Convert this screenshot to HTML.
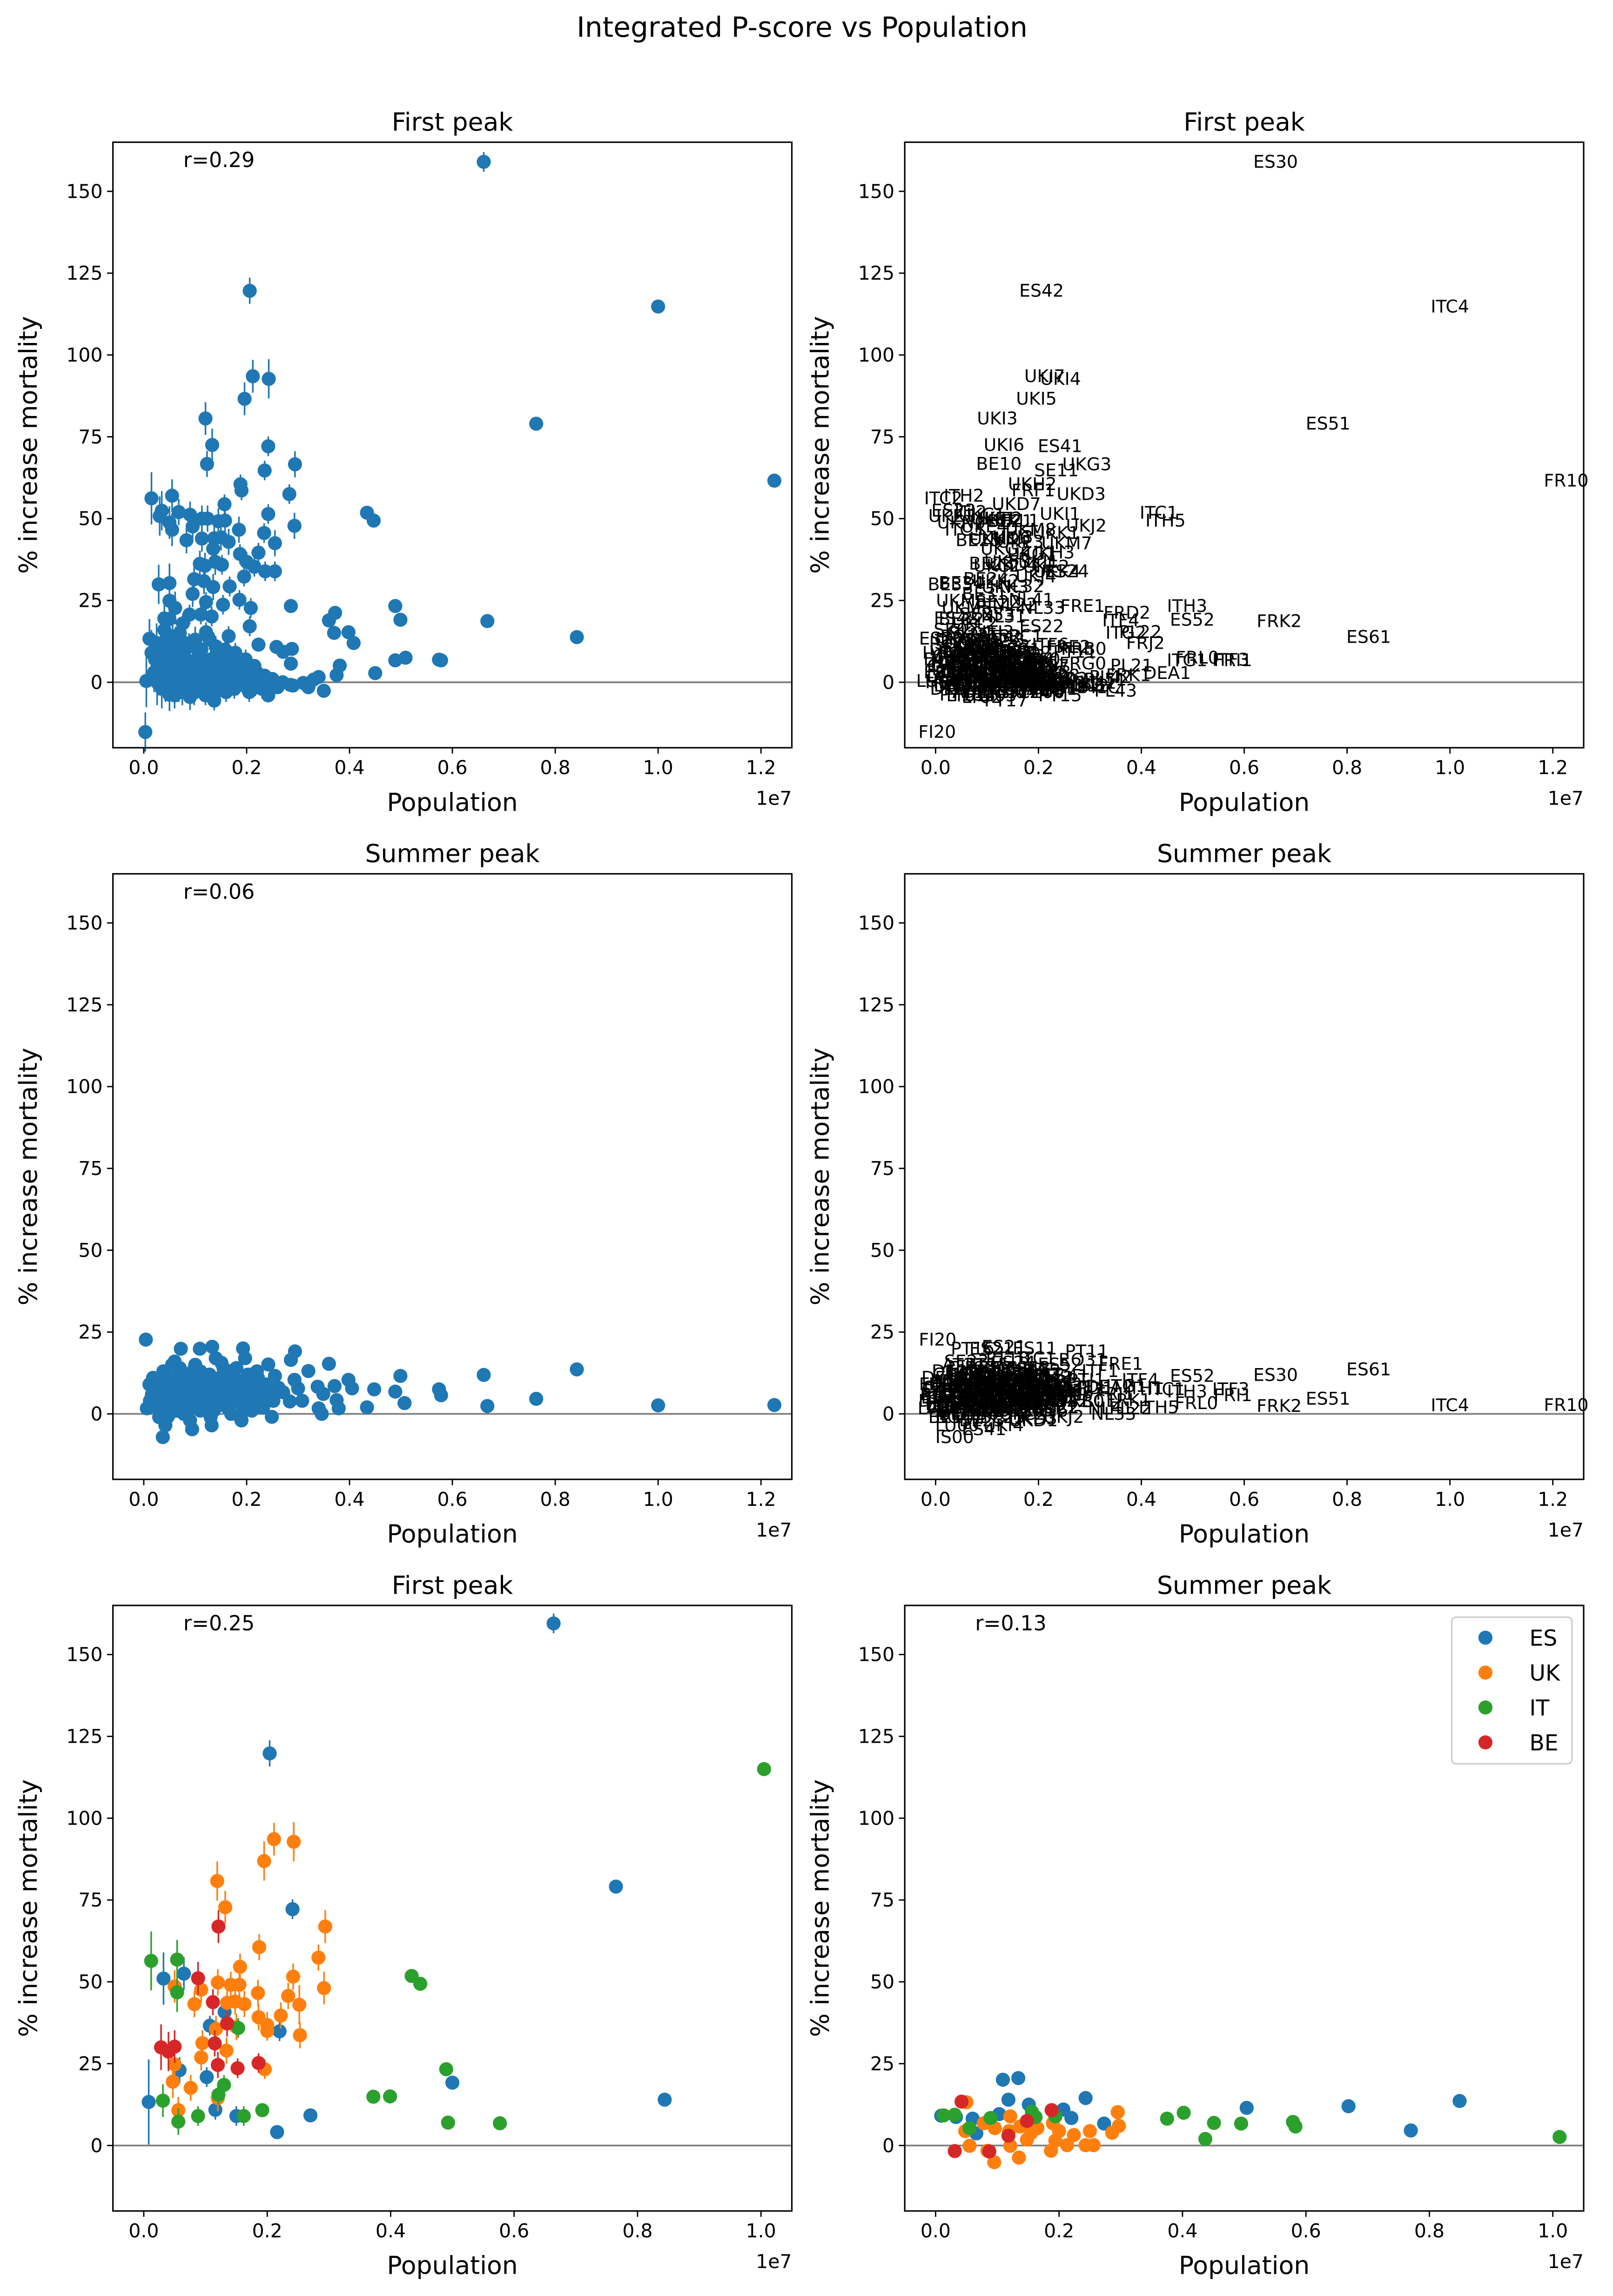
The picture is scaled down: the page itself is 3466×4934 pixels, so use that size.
<!DOCTYPE html>
<html><head><meta charset="utf-8">
<style>
html,body{margin:0;padding:0;background:#fff;}
svg{display:block;font-family:"DejaVu Sans","Liberation Sans",sans-serif;}
</style></head>
<body>
<svg id="fig" width="3466" height="4934" viewBox="0 0 1100 1566" preserveAspectRatio="none" xmlns="http://www.w3.org/2000/svg">
<rect x="0" y="0" width="1100" height="1566" fill="#fff"/>
<text x="547" y="25" font-size="19" text-anchor="middle">Integrated P-score vs Population</text>
</svg>
<script>
// ---------- First peak (all regions) ----------
const fpPop = [6.61,2.06,10.0,7.63,12.26,2.12,2.43,1.96,1.20,1.33,2.42,1.23,2.94,2.35,1.88,1.90,2.83,0.15,0.55,1.57,2.42,4.34,4.47,2.93,1.85,0.35,0.31,0.68,0.90,1.13,1.24,1.45,1.58,0.50,0.55,0.95,2.34,0.83,1.13,1.37,1.50,1.65,2.55,1.35,2.23,1.87,2.0,1.09,1.19,1.39,1.52,2.15,2.36,2.55,0.29,0.50,0.98,1.17,1.35,1.95,1.67,0.95,0.50,0.61,1.21,1.54,1.86,2.08,2.86,4.89,4.99,6.68,8.42,3.60,3.72,3.70,3.98,4.08,2.06,0.76,0.89,1.11,1.32,0.40,0.50,0.11,1.21,1.65,2.23,2.58,2.71,2.88,2.86,4.89,5.09,5.74,5.78,4.50,3.81,3.75,0.05,0.03,
0.3,0.4,0.5,0.6,0.7,0.8,0.9,1.0,1.1,1.2,1.3,1.4,1.5,1.6,1.7,1.8,1.9,2.0,2.1,2.2,2.3,2.5,0.35,0.45,0.55,0.65,0.75,0.85,0.95,1.05,1.15,1.25,1.35,1.45,1.55,1.65,1.75,1.85,1.95,2.05,2.15,2.35,2.7,2.9,3.1,3.4,3.5,3.3,2.85,2.42,2.08,1.37,0.5,0.25,0.2,0.15,0.6,0.9,1.2,1.6,0.7,1.0,0.4,0.55,0.8,1.1,1.4,1.7,2.25,2.6,3.2,
0.22,0.28,0.33,0.38,0.42,0.48,0.52,0.58,0.62,0.68,0.72,0.78,0.82,0.88,0.92,0.98,1.02,1.08,1.12,1.18,1.22,1.28,1.32,1.38,1.42,1.48,1.52,1.58,1.62,1.68,1.72,1.78,1.82,1.88,1.92,1.98,2.02,2.12,2.18,2.28,0.26,0.36,0.46,0.56,0.66,0.76,0.86,0.96,1.06,1.16,1.26,1.36,1.46,1.56,1.66,1.76,1.86,1.96,2.16,2.46];
const fpVal = [159,119.6,114.8,79,61.6,93.5,92.7,86.6,80.6,72.5,72.1,66.7,66.6,64.7,60.5,58.6,57.5,56.2,57,54.4,51.4,51.8,49.4,47.8,46.6,52.4,50.8,52,51.2,50,50,49.2,49.4,48.8,46.6,47.6,45.6,43.4,43.9,44,44.3,42.9,42.5,40.8,39.6,39.2,36.8,36.2,35.6,36.8,35.9,35.3,33.9,33.9,29.9,30.3,31.5,30.9,29.1,32.3,29.3,27,24.9,22.7,24.5,23.7,25.2,22.7,23.3,23.3,19.1,18.7,13.8,18.9,21.2,15.1,15.3,12,17.1,18,20.7,20.7,20.1,19.5,19.3,13.3,15.3,14.1,11.5,10.8,9.3,10.2,5.7,6.7,7.5,6.9,6.7,2.8,5.1,2.2,0.4,-15.2,
5,8,2,10,4,12,6,1,9,3,7,11,2,5,8,1,4,6,0,3,-2,1,-2,13,0,7,-3,3,11,-1,5,14,-2,6,9,1,-1,7,2,-3,5,2,0,-1,-0.2,1.6,-2.6,0.8,-0.8,-4,-2.6,-5.6,-3.8,12,3,9,-4,-4.5,-4,-3,15,13,16,11,0.5,2.5,0,3.5,-0.5,-1.5,-1.5,
7,2,10,4,-1,6,9,3,12,-2,5,8,0,11,4,-3,7,2,10,-1,6,13,1,4,8,-2,3,10,0,6,2,9,-1,5,1,7,-2,3,0,1,0,6,3,14,-1,8,2,5,0,7,3,-3,9,1,6,-2,4,1,2,-1];
const fpErr = [3,4,2,2,2,5,6,5,5,5,3,4,4,3,3,3,3,8,5,3,3,1,1,4,4,6,6,4,4,4,4,4,4,5,5,4,3,4,4,4,4,4,4,4,3,3,3,4,4,4,3,3,3,3,6,6,4,4,4,3,3,4,5,5,3,3,3,3,2,1,1,1,1,2,2,2,1,1,3,3,3,3,3,4,4,6,3,3,2,2,2,2,2,1,1,1,1,1,1,1,8,6,
6,5,5,4,4,4,4,4,4,3,3,3,3,3,3,3,3,3,3,3,3,2,6,6,5,4,4,4,4,4,3,3,3,3,3,3,3,3,3,3,2,2,2,2,2,2,2,2,2,2,2,3,5,6,6,7,4,4,3,3,4,4,5,5,4,4,3,3,2,2,2,
7,6,6,6,5,5,5,5,5,4,4,4,4,4,4,4,4,4,4,4,3,3,3,3,3,3,3,3,3,3,3,3,3,3,3,3,3,3,3,3,7,6,5,5,5,4,4,4,4,4,3,3,3,3,3,3,3,3,3,2];
const fpName = ["ES30","ES42","ITC4","ES51","FR10","UKI7","UKI4","UKI5","UKI3","UKI6","ES41","BE10","UKG3","SE11","UKH2","FRF1","UKD3","ITC2","ITH2","UKD7","UKI1","ITC1","ITH5","UKJ2","UKM8","ES23","UKE1","ITI2","UKC1","UKF1","UKF2","BE21","UKL1","UKN0","ITC3","UKE4","UKK1","BE25","UKH1","UKD6","UKJ3","UKE3","UKM7","UKG2","UKH3","UKG1","UKJ1","BE23","UKC2","UKF3","UKD4","UKE2","UKK4","ES24","BE35","BE34","BE24","UKK2","UKK3","UKJ4","NL32","BE31","UKM6","UKM5","BE22","NL22","NL41","NL33","FRE1","ITH3","ES52","FRK2","ES61","ITF4","FRD2","ITG2","PL22","FRJ2","ES22","UKL2","SE23","ES53","NL31","ES43","BE32","ES70","ITI3","FRC1","ITF6","FRE2","PT11","FRB0","FRG0","ITG1","FRL0","ITF3","FRI1","DEA1","PL21","FRK1","LU00","FI20",
"CH01","CH02","CH03","CH04","CH05","CH06","CH07","NL11","NL12","NL13","NL21","NL23","NL34","NL42","SE12","SE21","SE22","SE31","SE32","SE33","DK01","DK02","DK03","DK04","DK05","AT11","AT12","AT13","AT21","AT22","AT31","AT32","AT33","AT34","CZ01","CZ02","CZ03","CZ04","CZ05","CZ06","CZ07","CZ08","HU11","HU12","PL41","PL42","PL43","PL51","PL52","PT15","PT16","PT17","PT18","IS00","EE00","LV00","LT01","LT02","SI03","SI04","SK01","SK02","SK03","SK04","NO01","NO02","NO03","NO04","FI19","FI1B","FI1C",
"DE11","DE12","DE13","DE14","DE21","DE22","DE23","DE24","DE25","DE26","DE27","DE30","DE40","DE50","DE60","DE71","DE72","DE73","DE80","DE91","DE92","DE93","DE94","DEA2","DEA3","DEA4","DEA5","DEB1","DEB2","DEB3","DEC0","DED2","DED4","DED5","DEE0","DEF0","DEG0","PL61","PL62","PL63","HR03","HR04","RO11","RO12","RO21","RO22","RO31","RO32","RO41","RO42","BG31","BG32","BG33","BG34","BG41","BG42","EL30","EL41","EL42","EL43"];

// ---------- Summer peak (all regions) ----------
const smPop = [0.04,0.72,1.09,1.33,1.93,2.94,2.86,1.97,1.51,2.42,3.60,3.20,4.99,6.61,8.42,3.98,4.05,4.48,4.89,5.74,5.78,7.63,6.68,10.0,12.26,4.34,5.07,3.38,3.49,3.71,3.75,3.79,3.40,3.46,2.93,3.00,3.08,2.71,2.84,2.55,2.49,1.89,1.32,0.94,0.37,0.42,0.11,0.06,
0.2,0.3,0.4,0.5,0.6,0.7,0.8,0.9,1.0,1.1,1.2,1.3,1.4,1.5,1.6,1.7,1.8,1.9,2.0,2.1,2.2,2.3,2.4,0.25,0.35,0.45,0.55,0.65,0.75,0.85,0.95,1.05,1.15,1.25,1.35,1.45,1.55,1.65,1.75,1.85,1.95,2.05,2.15,2.25,2.35,0.3,0.5,0.7,0.9,1.1,1.3,1.5,1.7,1.9,2.1,2.3,0.15,0.6,1.0,1.4,1.8,2.2,
0.12,0.18,0.22,0.28,0.32,0.38,0.42,0.48,0.52,0.58,0.62,0.68,0.72,0.78,0.82,0.88,0.92,0.98,1.02,1.08,1.12,1.18,1.22,1.28,1.32,1.38,1.42,1.48,1.52,1.58,1.62,1.68,1.72,1.78,1.82,1.88,1.92,1.98,2.02,2.08,2.12,2.18,2.22,2.28,2.32,2.38,2.44,2.52,2.62,0.16,0.26,0.36,0.46,0.56,0.66,0.76,0.86,0.96,1.06,1.16,1.26,1.36,1.46,1.56,1.66,1.76,1.86,1.96,2.06,2.26];
const smVal = [22.7,19.9,19.9,20.5,20,19.1,16.5,17,15.6,15.1,15.3,13.1,11.6,11.9,13.6,10.4,7.8,7.5,6.8,7.5,5.7,4.6,2.4,2.6,2.7,2,3.3,8.3,6.1,8.5,4.2,1.7,1.7,0,10.4,7.8,4,6.6,3.8,11.6,-0.9,-1.4,-3.5,-4.7,-7.1,-3.5,9,1.7,
8,5,12,3,9,14,6,11,4,13,7,10,2,9,5,12,8,3,10,6,9,4,7,2,10,6,15,1,8,4,13,7,2,11,5,9,14,3,7,10,4,12,6,8,5,-1,0,2,-2,1,-1,3,0,-2,1,2,5,16,15,17,14,13,
4,11,7,2,9,13,5,1,10,6,3,12,8,0,11,5,9,2,14,7,4,10,1,12,6,8,3,11,5,9,2,13,7,4,10,6,1,8,12,3,9,5,11,7,2,9,6,4,8,6,3,10,-1,5,12,8,2,7,10,4,9,1,6,11,3,8,5,9,7,6];
const smName = ["FI20","PT16","ES21","ES21","ES11","PT11","RO31","ITC1","ES24","ES52","FRE1","ITF1","ES52","ES30","ES61","ITF4","ITH1","ITC1","ITH3","ITF3","FRI1","ES51","FRK2","ITC4","FR10","ITH5","FRL0","DEA2","FRJ1","ITG1","FRK1","PL22","NL41","NL33","PTI1","FRD1","FRC1","ITF6","FRB0","ES41","UKJ2","UKD3","UKI4","ES41","IS00","LU00","EE00","LV00",
"CH01","CH02","CH03","CH04","CH05","CH06","CH07","NL11","NL12","NL13","NL21","NL23","NL34","NL42","SE12","SE21","SE22","SE31","SE32","SE33","DK01","DK02","DK03","AT11","AT12","AT13","AT21","AT22","AT31","AT32","AT33","AT34","CZ01","CZ02","CZ03","CZ04","CZ05","CZ06","CZ07","CZ08","HU11","HU12","PL41","PL42","PL43","BE10","BE21","BE22","BE23","BE24","BE25","UKC1","UKC2","UKD1","UKD6","UKE1","ES23","SE23","PT15","PT18","ES43","ES53",
"DE11","DE12","DE13","DE14","DE21","DE22","DE23","DE24","DE25","DE26","DE27","DE30","DE40","DE50","DE60","DE71","DE72","DE73","DE80","DE91","DE92","DE93","DE94","DEA3","DEA4","DEA5","DEB1","DEB2","DEB3","DEC0","DED2","DED4","DED5","DEE0","DEF0","DEG0","PL61","PL62","PL63","HR03","HR04","RO11","RO12","RO21","RO22","RO32","RO41","RO42","BG31","BG32","BG33","BG34","BG41","BG42","EL30","EL41","EL42","EL43","UKF1","UKF2","UKG1","UKG2","UKH1","UKH2","UKJ1","UKJ3","UKK1","UKK2","UKL1","UKM7"];

// ---------- Country subsets ----------
const countries = ["ES","UK","IT","BE"];
const countryColors = {ES:"#1f77b4",UK:"#ff7f0e",IT:"#2ca02c",BE:"#d62728"};
const fpESPop=[6.64,2.04,7.65,2.41,0.32,0.65,1.31,1.07,2.20,0.58,1.02,5.0,0.08,1.16,1.50,2.70,8.44,2.16];
const fpESVal=[159.5,119.8,79.1,72.2,51,52.5,40.8,36.6,34.9,23,20.9,19.2,13.3,10.9,9,9.2,14,4.1];
const fpESErr=[3,4,2,3,8,5,3,3,3,4,3,2,13,3,3,2,1,2];
const fpITPop=[10.05,0.12,0.54,0.54,4.34,4.48,1.53,1.30,1.21,4.90,3.72,3.99,0.31,0.56,0.88,1.62,1.92,4.93,5.77];
const fpITVal=[115,56.4,56.8,46.8,51.8,49.4,35.9,18.5,15.5,23.3,14.9,15,13.7,7.3,9,9,10.8,7,6.8];
const fpITErr=[2,9,6,6,1,1,3,3,3,1,1,1,5,4,3,3,2,1,1];
const fpBEPop=[1.21,0.88,1.12,1.35,0.28,0.40,0.50,1.15,1.20,1.52,1.86];
const fpBEVal=[66.9,51.1,43.8,37.3,30,28.7,30.2,31.2,24.6,23.6,25.2];
const fpBEErr=[5,5,4,4,7,6,5,4,4,3,3];
const fpUKPop=[1.95,2.11,2.43,1.19,1.32,2.94,1.87,2.83,1.56,2.42,0.50,0.93,1.20,1.41,1.55,1.85,2.92,0.82,1.35,1.48,1.63,2.34,2.52,1.86,2.0,2.0,2.22,2.53,0.95,1.17,1.34,1.50,0.93,0.50,1.96,0.47,0.76,1.20,0.56];
const fpUKVal=[86.9,93.6,92.8,80.8,72.8,66.9,60.6,57.4,54.6,51.6,48.6,47.6,49.8,49.1,49.1,46.6,48.1,43.2,43.6,44,43.2,45.7,43,39.2,36.8,35,39.7,33.7,31.3,35.6,29,36.2,26.9,24.8,23.3,19.5,17.6,14.5,10.8];
const fpUKErr=[6,5,6,6,5,5,4,4,4,4,5,4,4,4,4,4,5,4,4,4,4,4,6,4,4,3,4,4,4,4,4,4,4,5,3,5,4,4,4];
const smESPop=[0.09,0.33,1.09,1.34,1.18,1.51,0.60,0.66,1.03,2.07,2.20,2.43,2.73,5.04,6.69,7.70,8.49];
const smESVal=[9.1,8.7,20.1,20.6,14,12.5,8.2,3.7,9.6,11,8.4,14.5,6.7,11.5,12,4.6,13.6];
const smITPop=[0.13,0.31,0.55,0.89,1.56,1.62,1.94,3.75,4.02,4.37,4.51,4.95,5.79,5.83,10.11];
const smITVal=[9.2,9.4,5.3,8.4,10.3,8.7,8.9,8.2,10,2,6.9,6.7,7.2,5.8,2.6];
const smBEPop=[0.31,0.42,0.87,1.88,1.18,1.48];
const smBEVal=[-1.7,13.4,-1.8,10.8,3,7.5];
const smUKPop=[0.50,0.48,0.55,0.78,0.84,0.95,0.96,1.21,1.21,1.19,1.35,1.37,1.48,1.55,1.65,1.87,1.90,1.94,2.0,2.13,2.24,2.43,2.50,2.56,2.86,2.95,2.97];
const smUKVal=[13.2,4.4,-0.1,6.8,-1.6,-5.1,5.3,8.9,-0.1,4.4,-3.7,5.8,1.8,3.9,5.3,-1.6,6.8,1.5,4.4,0.1,3.2,0.1,4.4,0.1,3.9,10.2,6];

const yTicks=[0,25,50,75,100,125,150];
const xTicksWide=[0.0,0.2,0.4,0.6,0.8,1.0,1.2];
const xTicksNarrow=[0.0,0.2,0.4,0.6,0.8,1.0];
const rValues=["r=0.29","r=0.06","r=0.25","r=0.13"];

const NS="http://www.w3.org/2000/svg";
const svg=document.getElementById('fig');
function mk(tag,attrs,parent){const e=document.createElementNS(NS,tag);for(const k in attrs)e.setAttribute(k,attrs[k]);(parent||svg).appendChild(e);return e;}

function makePanel(name,left,top,xmin,xmax,xt,title){
  const W=463,H=413,ymin=-20,ymax=165;
  const g=mk('g',{});
  
  
  const sx=v=>left+(v/10-xmin)/(xmax-xmin)*W;
  const sxu=u=>left+(u-xmin)/(xmax-xmin)*W;
  const sy=v=>top+H-(v-ymin)/(ymax-ymin)*H;
  const t=mk('text',{x:left+W/2,y:top-8,'font-size':17,'text-anchor':'middle'},g);t.textContent=title;
  
  
  const zl=mk('line',{x1:left,x2:left+W,y1:sy(0),y2:sy(0),stroke:'#808080','stroke-width':1.2},g);
  
  
  yTicks.forEach(v=>{
    mk('line',{x1:left-4,x2:left,y1:sy(v),y2:sy(v),stroke:'#000','stroke-width':0.9},g);
    const tl=mk('text',{x:left-7,y:sy(v)+4.5,'font-size':13,'text-anchor':'end'},g);tl.textContent=String(v);
    
    
  });
  xt.forEach(u=>{
    mk('line',{x1:sxu(u),x2:sxu(u),y1:top+H,y2:top+H+4,stroke:'#000','stroke-width':0.9},g);
    const tl=mk('text',{x:sxu(u),y:top+H+18,'font-size':13,'text-anchor':'middle'},g);tl.textContent=u.toFixed(1);
    
    
  });
  const ex=mk('text',{x:left+W,y:top+H+39,'font-size':13,'text-anchor':'end'},g);ex.textContent='1e7';
  
  
  const xl=mk('text',{x:left+W/2,y:top+H+43,'font-size':17,'text-anchor':'middle'},g);xl.textContent='Population';
  
  
  const yl=mk('text',{x:0,y:0,'font-size':17,'text-anchor':'middle',transform:`translate(${left-52},${top+H/2}) rotate(-90)`},g);yl.textContent='% increase mortality';
  
  
  const plot=mk('g',{},g);
  
  
  const frame=mk('rect',{x:left,y:top,width:W,height:H,fill:'none',stroke:'#000','stroke-width':1},g);
  
  
  return {g,plot,sx,sy};
}
function dots(P,pops,vals,errs,color,nm){
  pops.forEach((p,i)=>{
    const e=errs?errs[i]:2;
    const l=mk('line',{x1:P.sx(p),x2:P.sx(p),y1:P.sy(vals[i]+e),y2:P.sy(vals[i]-e),stroke:color,'stroke-width':1.1},P.plot);
    
    
  });
  pops.forEach((p,i)=>{
    const c=mk('circle',{cx:P.sx(p),cy:P.sy(vals[i]),r:4.8,fill:color},P.plot);
    
    
  });
}
function labels(P,pops,vals,names){
  pops.forEach((p,i)=>{
    const t=mk('text',{x:P.sx(p),y:P.sy(vals[i])+4,'font-size':12,'text-anchor':'middle'},P.plot);
    t.textContent=names[i];
    
    
  });
}
function rText(P,left,top,txt){
  const t=mk('text',{x:left+48,y:top+17,'font-size':14},P.g);t.textContent=txt;
  
  
}
const C0="#1f77b4";
const p1=makePanel('first-peak-scatter',77,97,-0.06,1.26,xTicksWide,'First peak');
dots(p1,fpPop,fpVal,fpErr,C0,'region');rText(p1,77,97,rValues[0]);
const p2=makePanel('first-peak-labels',617,97,-0.06,1.26,xTicksWide,'First peak');
labels(p2,fpPop,fpVal,fpName);
const p3=makePanel('summer-peak-scatter',77,596,-0.06,1.26,xTicksWide,'Summer peak');
dots(p3,smPop,smVal,null,C0,'region');rText(p3,77,596,rValues[1]);
const p4=makePanel('summer-peak-labels',617,596,-0.06,1.26,xTicksWide,'Summer peak');
labels(p4,smPop,smVal,smName);
const p5=makePanel('first-peak-by-country',77,1095,-0.05,1.05,xTicksNarrow,'First peak');
dots(p5,fpESPop,fpESVal,fpESErr,countryColors.ES,'es');
dots(p5,fpUKPop,fpUKVal,fpUKErr,countryColors.UK,'uk');
dots(p5,fpITPop,fpITVal,fpITErr,countryColors.IT,'it');
dots(p5,fpBEPop,fpBEVal,fpBEErr,countryColors.BE,'be');
rText(p5,77,1095,rValues[2]);
const p6=makePanel('summer-peak-by-country',617,1095,-0.05,1.05,xTicksNarrow,'Summer peak');
dots(p6,smESPop,smESVal,null,countryColors.ES,'es');
dots(p6,smUKPop,smUKVal,null,countryColors.UK,'uk');
dots(p6,smITPop,smITVal,null,countryColors.IT,'it');
dots(p6,smBEPop,smBEVal,null,countryColors.BE,'be');
rText(p6,617,1095,rValues[3]);
const lg=mk('g',{});


mk('rect',{x:990,y:1103,width:82,height:100,rx:3,fill:'#fff',stroke:'#ccc','stroke-width':1},lg);
countries.forEach((c,i)=>{
  const y=1117+i*23.8;
  const e=mk('g',{},lg);
  
  
  mk('circle',{cx:1013,cy:y,r:4.8,fill:countryColors[c]},e);
  const t=mk('text',{x:1043,y:y+5.5,'font-size':15},e);t.textContent=c;
});
</script>
</body></html>
